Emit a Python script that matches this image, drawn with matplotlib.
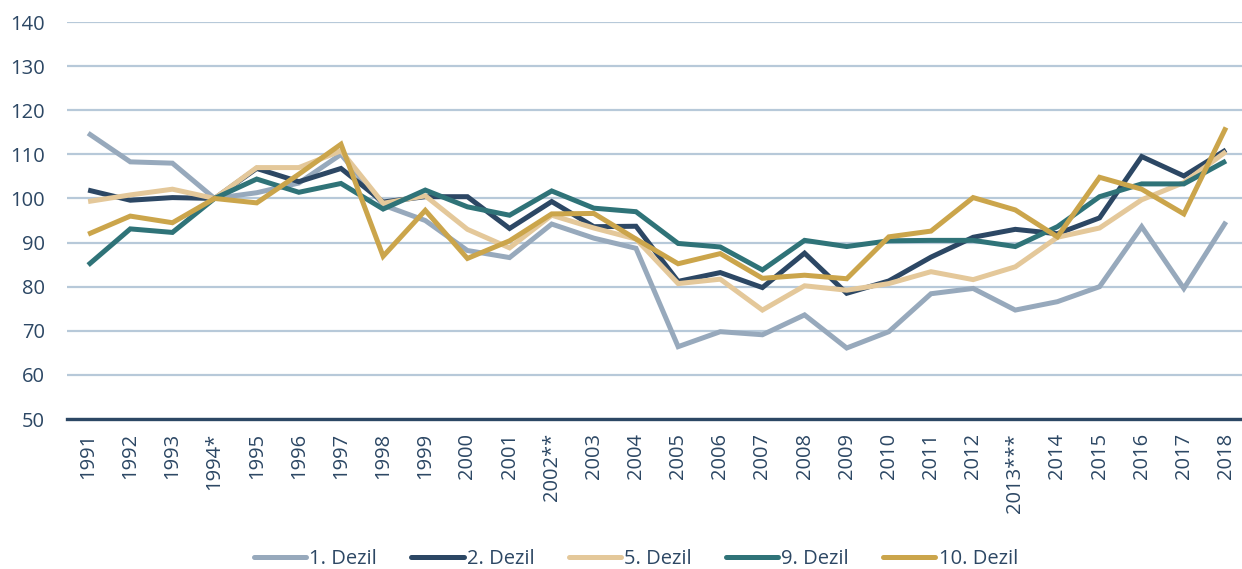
import numpy as np
from matplotlib import pyplot as plt

years = ["1991", "1992", "1993", "1994*", "1995", "1996", "1997", "1998", "1999",
         "2000", "2001", "2002**", "2003", "2004", "2005", "2006", "2007", "2008",
         "2009", "2010", "2011", "2012", "2013***", "2014", "2015", "2016", "2017", "2018"]

dezil_1 = [114.8, 108.3, 108.0, 100.0, 101.3, 103.5, 110.0, 98.5, 95.0,
           88.2, 86.6, 94.2, 91.0, 88.7, 66.4, 69.8, 69.1, 73.6,
           66.1, 69.8, 78.4, 79.6, 74.7, 76.6, 80.0, 93.6, 79.6, 94.7]
dezil_2 = [101.9, 99.6, 100.2, 100.0, 106.8, 103.8, 106.8, 99.2, 100.4,
           100.4, 93.2, 99.3, 93.6, 93.7, 81.2, 83.2, 79.8, 87.6,
           78.5, 81.3, 86.7, 91.2, 93.0, 92.0, 95.6, 109.5, 105.1, 111.0]
dezil_5 = [99.3, 100.8, 102.1, 100.0, 107.0, 107.0, 110.8, 98.9, 100.6,
           93.0, 88.8, 96.2, 93.3, 90.8, 80.7, 81.7, 74.7, 80.2,
           79.2, 80.7, 83.4, 81.6, 84.5, 91.2, 93.3, 99.7, 103.6, 110.6]
dezil_9 = [84.9, 93.1, 92.3, 100.0, 104.4, 101.4, 103.4, 97.6, 101.9,
           98.1, 96.2, 101.7, 97.8, 97.0, 89.8, 89.0, 83.8, 90.5,
           89.1, 90.4, 90.5, 90.5, 89.1, 93.6, 100.4, 103.3, 103.3, 108.5]
dezil_10 = [91.9, 96.0, 94.5, 100.0, 99.0, 105.5, 112.3, 86.9, 97.3,
            86.4, 90.4, 96.5, 96.6, 90.8, 85.2, 87.5, 81.9, 82.6,
            81.8, 91.3, 92.6, 100.2, 97.4, 91.3, 104.8, 102.1, 96.5, 116.1]

series = [("1. Dezil", dezil_1, "#97A9BC"),
          ("2. Dezil", dezil_2, "#2C4764"),
          ("5. Dezil", dezil_5, "#E4C89A"),
          ("9. Dezil", dezil_9, "#2F7378"),
          ("10. Dezil", dezil_10, "#CBA54B")]

plt.rcParams['font.family'] = ['Open Sans', 'DejaVu Sans']
text_color = "#2C4764"

fig = plt.figure(figsize=(12.42, 5.69), dpi=100)
ax = fig.add_axes([0.054, 0.2636, 0.946, 0.6977])

x = np.arange(len(years))
for name, vals, col in series:
    ax.plot(x, vals, color=col, lw=3.6, label=name, solid_joinstyle='miter',
            solid_capstyle='butt', zorder=3)

ax.set_ylim(50, 140)
ax.set_yticks(np.arange(50, 141, 10))
ax.set_xlim(-0.5, 27.38)
ax.set_xticks(x)
ax.set_xticklabels(years, rotation=90, va='top', ha='center')
ax.yaxis.grid(True, color="#B7C9D9", lw=1.6, zorder=1)
ax.tick_params(axis='both', length=0, labelsize=14.5, colors=text_color)
ax.tick_params(axis='y', pad=16)
ax.tick_params(axis='x', pad=10)
for side in ['top', 'right', 'left']:
    ax.spines[side].set_visible(False)
ax.spines['bottom'].set_color(text_color)
ax.spines['bottom'].set_linewidth(2.4)
ax.spines['bottom'].set_zorder(4)

leg = fig.legend(loc='center', bbox_to_anchor=(0.512, 0.018), ncol=5, frameon=False,
                 fontsize=14.5, handlelength=2.6, handletextpad=0.15, columnspacing=1.7)
for t in leg.get_texts():
    t.set_color(text_color)
for h in leg.get_lines():
    h.set_solid_capstyle('round')

fig.savefig("out.png", dpi=100)
